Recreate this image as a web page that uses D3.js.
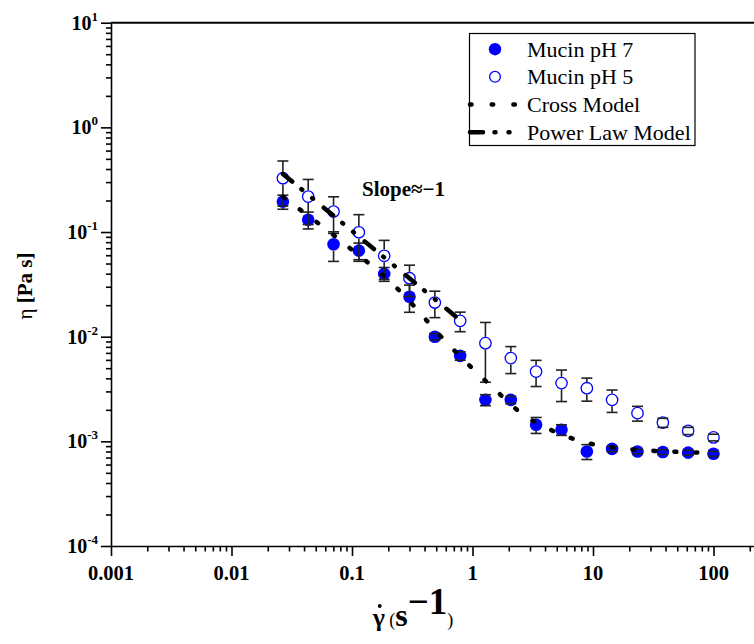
<!DOCTYPE html>
<html>

<head>
    <meta charset="utf-8" />
    <script src="https://d3js.org/d3.v7.min.js"></script>
    <style>
        body { margin: 0; background: #fff; }
        text { font-family: "Liberation Serif", "Times New Roman", serif; fill: #000; }
        .axis path, .axis line { stroke: #000; stroke-width: 1.6px; }
    </style>
</head>

<body>
    <svg id="chart" width="754" height="644"></svg>

    <script>
        // shear rate (1/s) shared by both samples
        const shearRate = [0.0267, 0.0433, 0.0703, 0.114, 0.185, 0.30, 0.487, 0.79, 1.28, 2.08,
            3.37, 5.48, 8.89, 14.4, 23.4, 38.0, 61.6, 100];

        // viscosity (Pa s) and standard deviation, mucin pH 7
        const etaPH7 = [0.195, 0.131, 0.0764, 0.0664, 0.0398, 0.0241, 0.0100, 0.00656, 0.00249, 0.00249,
            0.00144, 0.00129, 0.00080, 0.000847, 0.00080, 0.00079, 0.00078, 0.00076];
        const errPH7 = [0.03, 0.024, 0.024, 0.012, 0.006, 0.007, 0.0007, 0.0006, 0.0003, 0.0002,
            0.00025, 0.00015, 0.00013, 0.00005, 0.00004, 0.00004, 0.00004, 0.00004];

        // viscosity (Pa s) and standard deviation, mucin pH 5
        const etaPH5 = [0.327, 0.218, 0.157, 0.0995, 0.0592, 0.0362, 0.0212, 0.01416, 0.00867, 0.00624,
            0.00464, 0.0036, 0.00322, 0.00249, 0.00186, 0.00151, 0.00126, 0.00109];
        const errPH5 = [0.15, 0.10, 0.06, 0.047, 0.024, 0.012, 0.006, 0.003, 0.005, 0.0018,
            0.0013, 0.0012, 0.0008, 0.0006, 0.0003, 0.00015, 0.0001, 0.00008];

        // model curves
        const crossRate = [0.0267, 0.0751, 0.2585, 0.599, 1.443, 2.728, 3.998, 8.47, 18.44, 100];
        const crossEta = [0.2164, 0.0878, 0.0262, 0.00898, 0.003338, 0.001752, 0.001367, 0.000983, 0.000848, 0.000777];
        const powerRate = [0.0267, 0.787];
        const powerEta = [0.359, 0.01445];

        const xMajor = [0.001, 0.01, 0.1, 1, 10, 100];
        const xLabels = ["0.001", "0.01", "0.1", "1", "10", "100"];
        const yExponents = [-4, -3, -2, -1, 0, 1];

        const legendNames = ["Mucin pH 7", "Mucin pH 5", "Cross Model", "Power Law Model"];

        const blue = "#0000ff";
        const svg = d3.select("#chart");

        const x = d3.scaleLog().domain([1e-3, 1e3]).range([111, 834]);
        const y = d3.scaleLog().domain([1e-4, 10]).range([546, 22.7]);

        // minor ticks for both log axes
        function logTicks(lo, hi) {
            const out = [];
            for (let e = lo; e < hi; e++) {
                for (let m = 1; m < 10; m++) out.push(m * Math.pow(10, e));
            }
            out.push(Math.pow(10, hi));
            return out;
        }
        const xTicks = logTicks(-3, 3);
        const yTicks = logTicks(-4, 1);
        const isMajor = v => Math.abs(Math.log10(v) - Math.round(Math.log10(v))) < 1e-9;

        // x axis
        const gx = svg.append("g").attr("class", "axis")
            .attr("transform", "translate(0,546)")
            .call(d3.axisBottom(x).tickValues(xTicks).tickSizeOuter(0).tickFormat(""));
        gx.selectAll(".tick line").attr("y2", d => isMajor(d) ? 10 : 5.5);

        gx.selectAll(".xlab")
            .data(xMajor)
            .enter().append("text")
            .attr("class", "xlab")
            .attr("x", d => x(d))
            .attr("y", 34)
            .attr("text-anchor", "middle")
            .style("font-size", "20.5px")
            .style("font-weight", "bold")
            .text((d, i) => xLabels[i]);

        // y axis
        const gy = svg.append("g").attr("class", "axis")
            .attr("transform", "translate(111,0)")
            .call(d3.axisLeft(y).tickValues(yTicks).tickSizeOuter(0).tickFormat(""));
        gy.selectAll(".tick line").attr("x2", d => isMajor(d) ? -10 : -5);

        const ylab = gy.selectAll(".ylab")
            .data(yExponents)
            .enter().append("text")
            .attr("class", "ylab")
            .attr("x", -13)
            .attr("y", d => y(Math.pow(10, d)) + 7)
            .attr("text-anchor", "end")
            .style("font-weight", "bold");
        ylab.append("tspan").style("font-size", "20px").text("10");
        ylab.append("tspan").style("font-size", "13px").attr("dy", -9).text(d => String(d));

        // top frame line
        svg.append("line")
            .attr("x1", x(1e-3)).attr("x2", x(1e3))
            .attr("y1", y(10)).attr("y2", y(10))
            .attr("stroke", "#000").attr("stroke-width", 2);

        // axis titles
        svg.append("text")
            .attr("transform", "translate(32,286) rotate(-90)")
            .attr("text-anchor", "middle")
            .style("font-size", "21px")
            .call(t => {
                t.append("tspan").text("η ");
                t.append("tspan").style("font-weight", "bold").text("[Pa s]");
            });

        const xt = svg.append("text")
            .attr("x", 413).attr("y", 626)
            .attr("text-anchor", "middle");
        xt.append("tspan").style("font-size", "26px").style("font-weight", "bold").text("γ");
        xt.append("tspan").style("font-size", "18px").text(" (");
        xt.append("tspan").style("font-size", "32px").style("font-weight", "bold").text("s");
        xt.append("tspan").style("font-size", "37px").style("font-weight", "bold").attr("dy", -12).text("\u22121");
        xt.append("tspan").style("font-size", "18px").attr("dy", 12).text(")");
        // the rate dot over gamma
        const gExt = xt.node().getExtentOfChar(0);
        svg.append("circle")
            .attr("cx", gExt.x + gExt.width / 2 + 1)
            .attr("cy", 606)
            .attr("r", 1.9)
            .attr("fill", "#000");

        // data
        const r = 6.3;
        const pts7 = shearRate.map((s, i) => ({ s: s, v: etaPH7[i], e: errPH7[i] }));
        const pts5 = shearRate.map((s, i) => ({ s: s, v: etaPH5[i], e: errPH5[i] }));

        svg.append("g").selectAll("circle")
            .data(pts7)
            .enter().append("circle")
            .attr("cx", d => x(d.s)).attr("cy", d => y(d.v)).attr("r", r)
            .attr("fill", blue);

        svg.append("g").selectAll("circle")
            .data(pts5)
            .enter().append("circle")
            .attr("cx", d => x(d.s)).attr("cy", d => y(d.v)).attr("r", r - 0.6)
            .attr("fill", "#fff").attr("stroke", blue).attr("stroke-width", 1.3);

        // error bars: stems stop at the symbol edge, caps on top
        function errorBars(data) {
            const g = svg.append("g").attr("stroke", "#222").attr("stroke-width", 1.6);
            data.forEach(d => {
                const cx = x(d.s), cy = y(d.v);
                const top = y(d.v + d.e), bot = y(Math.max(d.v - d.e, 1e-6));
                if (cy - r > top) g.append("line").attr("x1", cx).attr("x2", cx).attr("y1", top).attr("y2", cy - r);
                if (bot > cy + r) g.append("line").attr("x1", cx).attr("x2", cx).attr("y1", cy + r).attr("y2", bot);
                [top, bot].forEach(yy => g.append("line")
                    .attr("x1", cx - 5.5).attr("x2", cx + 5.5).attr("y1", yy).attr("y2", yy));
            });
        }
        errorBars(pts7);
        errorBars(pts5);

        // models
        const crossLine = d3.line().x(d => x(d[0])).y(d => y(d[1])).curve(d3.curveMonotoneX);
        svg.append("path")
            .attr("d", crossLine(crossRate.map((s, i) => [s, crossEta[i]])))
            .attr("fill", "none").attr("stroke", "#000").attr("stroke-width", 4.5)
            .attr("stroke-linecap", "round").attr("stroke-dasharray", "2 19");

        svg.append("path")
            .attr("d", d3.line().x(d => x(d[0])).y(d => y(d[1]))(powerRate.map((s, i) => [s, powerEta[i]])))
            .attr("fill", "none").attr("stroke", "#000").attr("stroke-width", 4.5)
            .attr("stroke-linecap", "round").attr("stroke-dasharray", "12 12 1 13 1 14");

        svg.append("text")
            .attr("x", x(0.121)).attr("y", y(0.22))
            .style("font-size", "21px").style("font-weight", "bold")
            .text("Slope\u2248\u22121");

        // legend
        const lg = svg.append("g");
        lg.append("rect")
            .attr("x", 469.5).attr("y", 33.5).attr("width", 225.5).attr("height", 112)
            .attr("fill", "#fff").attr("stroke", "#000").attr("stroke-width", 1.2);
        const rowY = [49.2, 76.8, 104.5, 132.2];
        lg.selectAll("text.leg")
            .data(legendNames)
            .enter().append("text")
            .attr("class", "leg")
            .attr("x", 527).attr("y", (d, i) => rowY[i] + 7.5)
            .style("font-size", "22px")
            .text(d => d);
        lg.append("circle").attr("cx", 495).attr("cy", rowY[0]).attr("r", 6.2).attr("fill", blue);
        lg.append("circle").attr("cx", 495).attr("cy", rowY[1]).attr("r", 5.4)
            .attr("fill", "#fff").attr("stroke", blue).attr("stroke-width", 1.3);
        lg.append("line").attr("x1", 470).attr("x2", 516).attr("y1", rowY[2]).attr("y2", rowY[2])
            .attr("stroke", "#000").attr("stroke-width", 4.5).attr("stroke-linecap", "round")
            .attr("stroke-dasharray", "1.5 20.2");
        lg.append("line").attr("x1", 470).attr("x2", 516).attr("y1", rowY[3]).attr("y2", rowY[3])
            .attr("stroke", "#000").attr("stroke-width", 4.5).attr("stroke-linecap", "round")
            .attr("stroke-dasharray", "13 11.5 1 13 1 20");
    </script>
</body>

</html>
